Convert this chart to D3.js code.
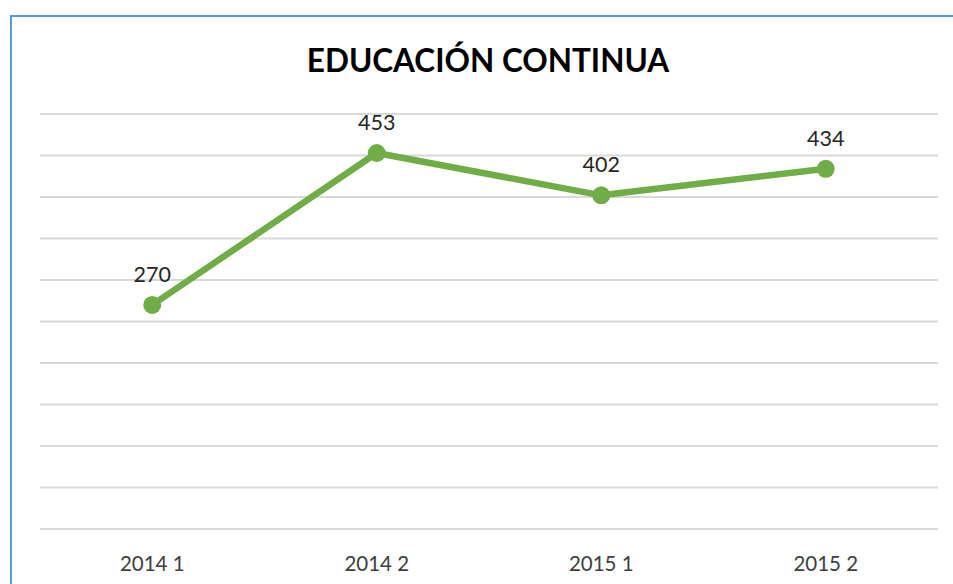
<!DOCTYPE html>
<html>
<head>
<meta charset="utf-8">
<script src="https://cdn.jsdelivr.net/npm/d3@7"></script>
<style>
  body { margin: 0; background: #fff; }
  svg { display: block; }
</style>
</head>
<body>
<div id="chart"></div>
<script>
// === DATA ===
const categories = ['2014 1', '2014 2', '2015 1', '2015 2']
const values = [270, 453, 402, 434]
const yTicks = [0, 50, 100, 150, 200, 250, 300, 350, 400, 450, 500]
const title = 'EDUCACIÓN CONTINUA'

// === LAYOUT ===
const W = 953, H = 584
const m = { left: 40, right: 15, top: 114, bottom: 55 }
const font = 'Lato, "Open Sans", sans-serif'

const svg = d3.select('#chart').append('svg')
    .attr('width', W)
    .attr('height', H)

// frame (only left & top edges show in the crop)
svg.append('path')
    .attr('d', `M11,${H + 5} L11,16 L${W + 5},16`)
    .attr('fill', 'none')
    .attr('stroke', '#5b9bd5')
    .attr('stroke-width', 2)

const x = d3.scaleBand()
    .domain(categories)
    .range([m.left, W - m.right])

const y = d3.scaleLinear()
    .domain([0, 500])
    .range([H - m.bottom, m.top])

// gridlines
svg.append('g')
    .selectAll('line')
    .data(yTicks)
    .join('line')
    .attr('x1', m.left)
    .attr('x2', W - m.right)
    .attr('y1', d => y(d))
    .attr('y2', d => y(d))
    .attr('stroke', '#d9d9d9')
    .attr('stroke-width', 2)

// x axis labels
const xAxis = svg.append('g')
    .attr('transform', `translate(0,${H - m.bottom})`)
    .call(d3.axisBottom(x).tickSize(0).tickPadding(0))
xAxis.select('.domain').remove()
xAxis.selectAll('text')
    .attr('dy', null)
    .attr('y', 42)
    .attr('fill', '#404040')
    .style('font-family', font)
    .style('font-size', '20.5px')

// title
svg.append('text')
    .attr('x', 488)
    .attr('y', 72)
    .attr('text-anchor', 'middle')
    .attr('fill', '#000')
    .style('font-family', font)
    .style('font-weight', 'bold')
    .style('font-size', '31.5px')
    .text(title)

// line
const pts = categories.map((c, i) => ({ c, v: values[i] }))
const line = d3.line()
    .x(d => x(d.c) + x.bandwidth() / 2)
    .y(d => y(d.v))

svg.append('path')
    .datum(pts)
    .attr('d', line)
    .attr('fill', 'none')
    .attr('stroke', '#70ad47')
    .attr('stroke-width', 6.5)
    .attr('stroke-linejoin', 'round')

svg.append('g')
    .selectAll('circle')
    .data(pts)
    .join('circle')
    .attr('cx', d => x(d.c) + x.bandwidth() / 2)
    .attr('cy', d => y(d.v))
    .attr('r', 9)
    .attr('fill', '#70ad47')

// data labels
svg.append('g')
    .selectAll('text')
    .data(pts)
    .join('text')
    .attr('x', d => x(d.c) + x.bandwidth() / 2)
    .attr('y', d => y(d.v) - 23)
    .attr('text-anchor', 'middle')
    .attr('fill', '#262626')
    .style('font-family', font)
    .style('font-size', '21.5px')
    .text(d => d.v)
</script>
</body>
</html>
